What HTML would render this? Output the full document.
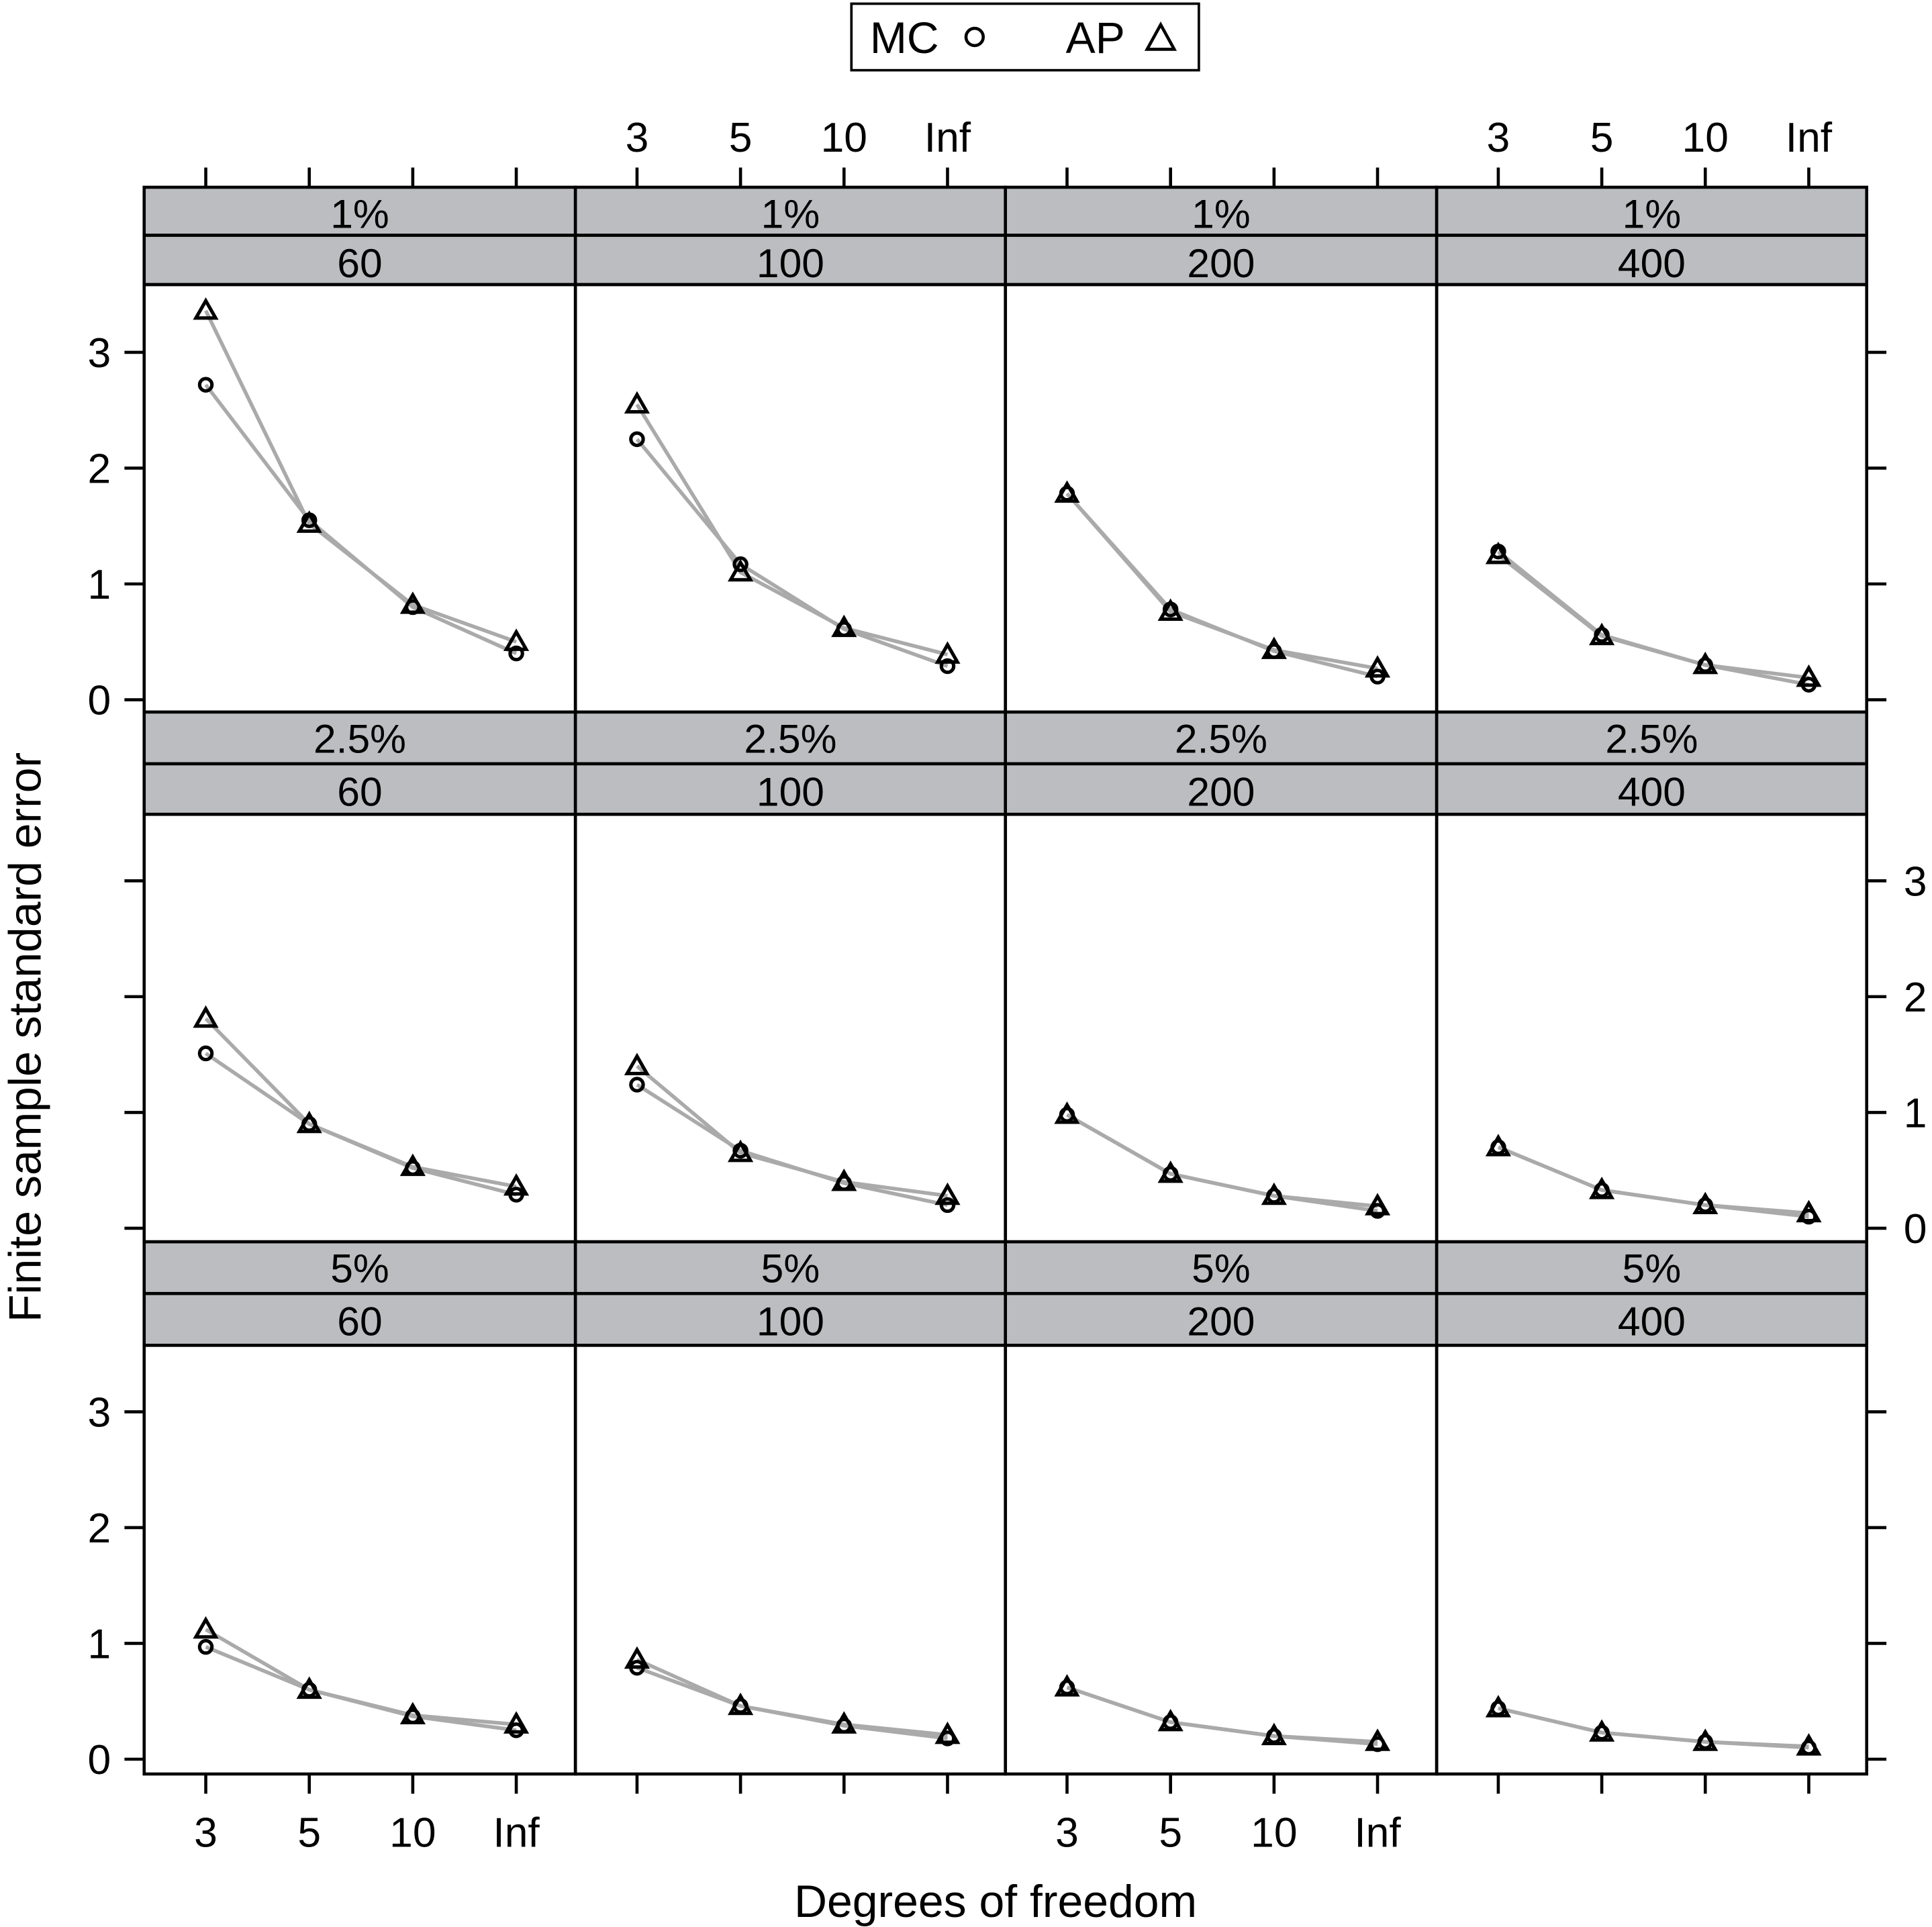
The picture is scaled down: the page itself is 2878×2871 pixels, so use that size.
<!DOCTYPE html>
<html><head><meta charset="utf-8"><style>html,body{margin:0;padding:0;background:#fff}svg{display:block}</style></head>
<body>
<svg id="s" xmlns="http://www.w3.org/2000/svg" width="2878" height="2871" viewBox="0 0 1568 1564.2" font-family="Liberation Sans, Arial, sans-serif">
<rect x="0" y="0" width="1568" height="1565" fill="#fff"/>
</svg>
<script>
const s=document.getElementById('s');const NS='http://www.w3.org/2000/svg';
function el(t,a,txt){const e=document.createElementNS(NS,t);for(const k in a)e.setAttribute(k,a[k]);if(txt!==undefined)e.textContent=txt;s.appendChild(e);return e;}
const cols=[117,467,816,1166,1515];
const rows=[{s1:152,s2:191,p:231,b:578,z:568},{s1:578,s2:620,p:661,b:1008,z:997},{s1:1008,s2:1050,p:1092,b:1440,z:1428}];
const U=94;const xo=[50,134,218,302];
const pct=['1%','2.5%','5%'],ns=['60','100','200','400'];
const MC=[[[2.72,1.55,0.8,0.4],[2.25,1.17,0.61,0.29],[1.78,0.78,0.42,0.2],[1.28,0.56,0.3,0.13]],
[[1.51,0.9,0.52,0.29],[1.24,0.67,0.39,0.2],[0.98,0.47,0.28,0.15],[0.7,0.33,0.2,0.1]],
[[0.97,0.6,0.37,0.25],[0.79,0.46,0.29,0.18],[0.62,0.32,0.2,0.13],[0.44,0.23,0.15,0.1]]];
const AP=[[[3.36,1.52,0.82,0.5],[2.55,1.1,0.62,0.39],[1.78,0.76,0.43,0.27],[1.25,0.55,0.3,0.19]],
[[1.81,0.9,0.53,0.36],[1.4,0.65,0.4,0.28],[0.98,0.47,0.28,0.19],[0.7,0.33,0.2,0.13]],
[[1.12,0.6,0.38,0.3],[0.86,0.46,0.3,0.21],[0.62,0.32,0.2,0.15],[0.44,0.23,0.15,0.11]]];
const lab=['3','5','10','Inf'];
for(let r=0;r<3;r++){const R=rows[r];
 for(let c=0;c<4;c++){const x0=cols[c],x1=cols[c+1],w=x1-x0,cx=(x0+x1)/2;
  el('rect',{x:x0,y:R.s1,width:w,height:R.s2-R.s1,fill:'#bcbdc0',stroke:'#000','stroke-width':2.5});
  el('rect',{x:x0,y:R.s2,width:w,height:R.p-R.s2,fill:'#bcbdc0',stroke:'#000','stroke-width':2.5});
  el('text',{x:cx,y:R.s1+33,'font-size':33,'text-anchor':'middle'},pct[r]);
  el('text',{x:cx,y:R.s2+34,'font-size':33,'text-anchor':'middle'},ns[c]);
  el('rect',{x:x0,y:R.p,width:w,height:R.b-R.p,fill:'none',stroke:'#000','stroke-width':2.5});
  const sers=[MC[r][c],AP[r][c]];
  for(const d of sers){el('polyline',{points:d.map((v,i)=>(x0+xo[i])+','+(R.z-v*U)).join(' '),fill:'none',stroke:'#aaa','stroke-width':3});}
  MC[r][c].forEach((v,i)=>el('circle',{cx:x0+xo[i],cy:R.z-v*U,r:5,fill:'none',stroke:'#000','stroke-width':2.8}));
  AP[r][c].forEach((v,i)=>{const X=x0+xo[i],Y=R.z-v*U;el('polygon',{points:`${X},${Y-8} ${X+8},${Y+6} ${X-8},${Y+6}`,fill:'none',stroke:'#000','stroke-width':2.8});});
 }
 for(let k=0;k<4;k++){const y=R.z-k*U;
  el('line',{x1:101,y1:y,x2:117,y2:y,stroke:'#000','stroke-width':2.5});
  el('line',{x1:1515,y1:y,x2:1531,y2:y,stroke:'#000','stroke-width':2.5});
  if(r!==1)el('text',{x:90,y:y+12,'font-size':34,'text-anchor':'end'},k);
  else el('text',{x:1545,y:y+12,'font-size':34},k);
 }
}
for(let c=0;c<4;c++){for(let i=0;i<4;i++){const X=cols[c]+xo[i];
 el('line',{x1:X,y1:136,x2:X,y2:152,stroke:'#000','stroke-width':2.5});
 el('line',{x1:X,y1:1440,x2:X,y2:1456,stroke:'#000','stroke-width':2.5});
 if(c%2==1)el('text',{x:X,y:123,'font-size':34,'text-anchor':'middle'},lab[i]);
 else el('text',{x:X,y:1499,'font-size':34,'text-anchor':'middle'},lab[i]);
}}
el('rect',{x:691,y:3,width:282,height:54,fill:'#fff',stroke:'#000','stroke-width':2});
el('text',{x:706,y:43,'font-size':36},'MC');
el('circle',{cx:791,cy:30,r:7,fill:'none',stroke:'#000','stroke-width':2.5});
el('text',{x:865,y:43,'font-size':36},'AP');
el('polygon',{points:'942,20 953,40 931,40',fill:'none',stroke:'#000','stroke-width':2.5});
el('text',{x:808,y:1556,'font-size':37,'text-anchor':'middle'},'Degrees of freedom');
el('text',{x:0,y:0,'font-size':37,'text-anchor':'middle',transform:'translate(33,842) rotate(-90)'},'Finite sample standard error');
</script>
</body></html>
